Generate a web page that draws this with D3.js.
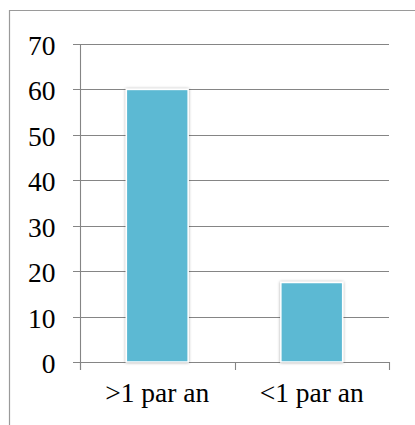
<!DOCTYPE html>
<html><head><meta charset="utf-8">
<script src="https://cdn.jsdelivr.net/npm/d3@7"></script>
<style>html,body{margin:0;padding:0;background:#fff;}svg{display:block;}</style>
</head><body>
<script>
const categories = [">1 par an", "<1 par an"];
const values = [60, 17.5];
const yTicks = [0, 10, 20, 30, 40, 50, 60, 70];

const W = 415, H = 425;
const svg = d3.select("body").append("svg").attr("width", W).attr("height", H);

const defs = svg.append("defs");
const f = defs.append("filter").attr("id", "sh").attr("x", "-20%").attr("y", "-10%").attr("width", "140%").attr("height", "120%");
f.append("feDropShadow").attr("dx", 0).attr("dy", 0).attr("stdDeviation", 1.6)
  .attr("flood-color", "#000").attr("flood-opacity", 0.35);

// outer frame
svg.append("path").attr("d", "M9.5,425 V10.5 H415").attr("fill", "none")
  .attr("stroke", "#9a9a9a").attr("stroke-width", 1.2);

const x0 = 80, x1 = 389, yTop = 44, yBot = 362;
const x = d3.scaleBand().domain(categories).range([x0, x1]).paddingInner(0.6).paddingOuter(0.3);
const y = d3.scaleLinear().domain([0, 70]).range([yBot, yTop]);

const font = "'Liberation Serif', 'DejaVu Serif', serif";
const fs = 27.5;
const gridC = "#858585";

// gridlines + left ticks
const g = svg.append("g");
yTicks.forEach(t => {
  const yy = Math.round(y(t)) + 0.5;
  g.append("line").attr("x1", 73).attr("x2", x1).attr("y1", yy).attr("y2", yy)
    .attr("stroke", gridC).attr("stroke-width", 1.1);
  g.append("text").attr("x", 55.5).attr("y", y(t) + 11).attr("text-anchor", "end")
    .attr("font-family", font).attr("font-size", fs).attr("fill", "#000").text(t);
});
// y axis line
svg.append("line").attr("x1", x0 + 0.5).attr("x2", x0 + 0.5).attr("y1", yTop).attr("y2", 370)
  .attr("stroke", gridC).attr("stroke-width", 1.1);
// x ticks at category boundaries
const step = (x1 - x0) / categories.length;
d3.range(categories.length + 1).forEach(i => {
  const xx = Math.round(x0 + i * step) + 0.5;
  svg.append("line").attr("x1", xx).attr("x2", xx).attr("y1", yBot).attr("y2", 370)
    .attr("stroke", gridC).attr("stroke-width", 1.1);
});

// bars
svg.append("g").selectAll("rect").data(values).join("rect")
  .attr("x", (d, i) => x(categories[i]))
  .attr("width", x.bandwidth())
  .attr("y", d => y(d))
  .attr("height", d => y(0) - y(d))
  .attr("fill", "#5bb9d3")
  .attr("stroke", "#fff").attr("stroke-width", 1.5)
  .attr("filter", "url(#sh)");

// x labels
svg.append("g").selectAll("text").data(categories).join("text")
  .attr("x", d => x(d) + x.bandwidth() / 2)
  .attr("y", 402)
  .attr("text-anchor", "middle")
  .attr("font-family", font).attr("font-size", fs).attr("fill", "#000")
  .text(d => d);
</script>
</body></html>
